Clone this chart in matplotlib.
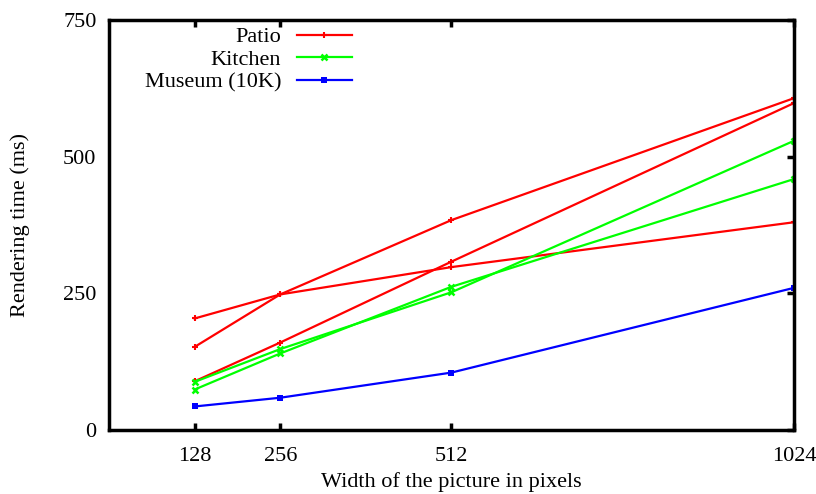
import matplotlib
matplotlib.use("Agg")
import matplotlib.pyplot as plt

plt.rcParams['font.family'] = ['Liberation Serif', 'DejaVu Serif']

widths = [128, 256, 512, 1024]

# Patio scene, three runs
patio_a = [204, 248, 298, 380]
patio_b = [152, 248, 384, 607]
patio_c = [89, 160, 308, 598]

# Kitchen scene, two runs
kitchen_a = [88, 148, 252, 529]
kitchen_b = [74, 140, 262, 459]

# Museum scene (10K)
museum = [43, 59, 105, 260]

y_ticks = [0, 250, 500, 750]

fig = plt.figure(figsize=(8.16, 4.94), dpi=100)
ax = fig.add_axes([0.1336, 0.1296, 0.973 - 0.1336, 0.9595 - 0.1296])

lw = 1.6
red, green, blue = '#ff0000', '#00ff00', '#0000ff'
fs = 16

ax.plot(widths, patio_a, color=red, lw=lw, marker='+', ms=5, mew=1.5, label='Patio')
ax.plot(widths, patio_b, color=red, lw=lw, marker='+', ms=5, mew=1.5)
ax.plot(widths, patio_c, color=red, lw=lw, marker='+', ms=5, mew=1.5)

ax.plot(widths, kitchen_a, color=green, lw=lw, marker='x', ms=5, mew=1.8, label='Kitchen')
ax.plot(widths, kitchen_b, color=green, lw=lw, marker='x', ms=5, mew=1.8)

ax.plot(widths, museum, color=blue, lw=lw, marker='s', ms=4, mew=0, label='Museum (10K)')

ax.set_xlim(0, 1024)
ax.set_ylim(0, 750)
ax.set_xticks(widths)
ax.set_xticklabels([str(w) for w in widths])
ax.set_yticks(y_ticks)

for s in ax.spines.values():
    s.set_linewidth(2.5)
    s.set_color('black')

ax.tick_params(axis='x', direction='in', top=True, bottom=True, length=5, width=2.5,
               labelsize=fs, pad=12)
ax.tick_params(axis='y', direction='in', left=False, right=True, labelleft=True,
               length=5, width=2.5, labelsize=fs, pad=9)

ax.set_xlabel('Width of the picture in pixels', fontsize=fs, labelpad=5)
ax.set_ylabel('Rendering time (ms)', fontsize=fs, labelpad=24)

leg = ax.legend(loc='upper left', bbox_to_anchor=(0.039, 1.005), frameon=False,
                markerfirst=False, fontsize=fs, handlelength=2.5, handletextpad=0.7,
                labelspacing=0.1, borderaxespad=0.0)
for t in leg.get_texts():
    t.set_ha('right')
leg._legend_box.align = 'right'

fig.savefig('out.png', dpi=100)
